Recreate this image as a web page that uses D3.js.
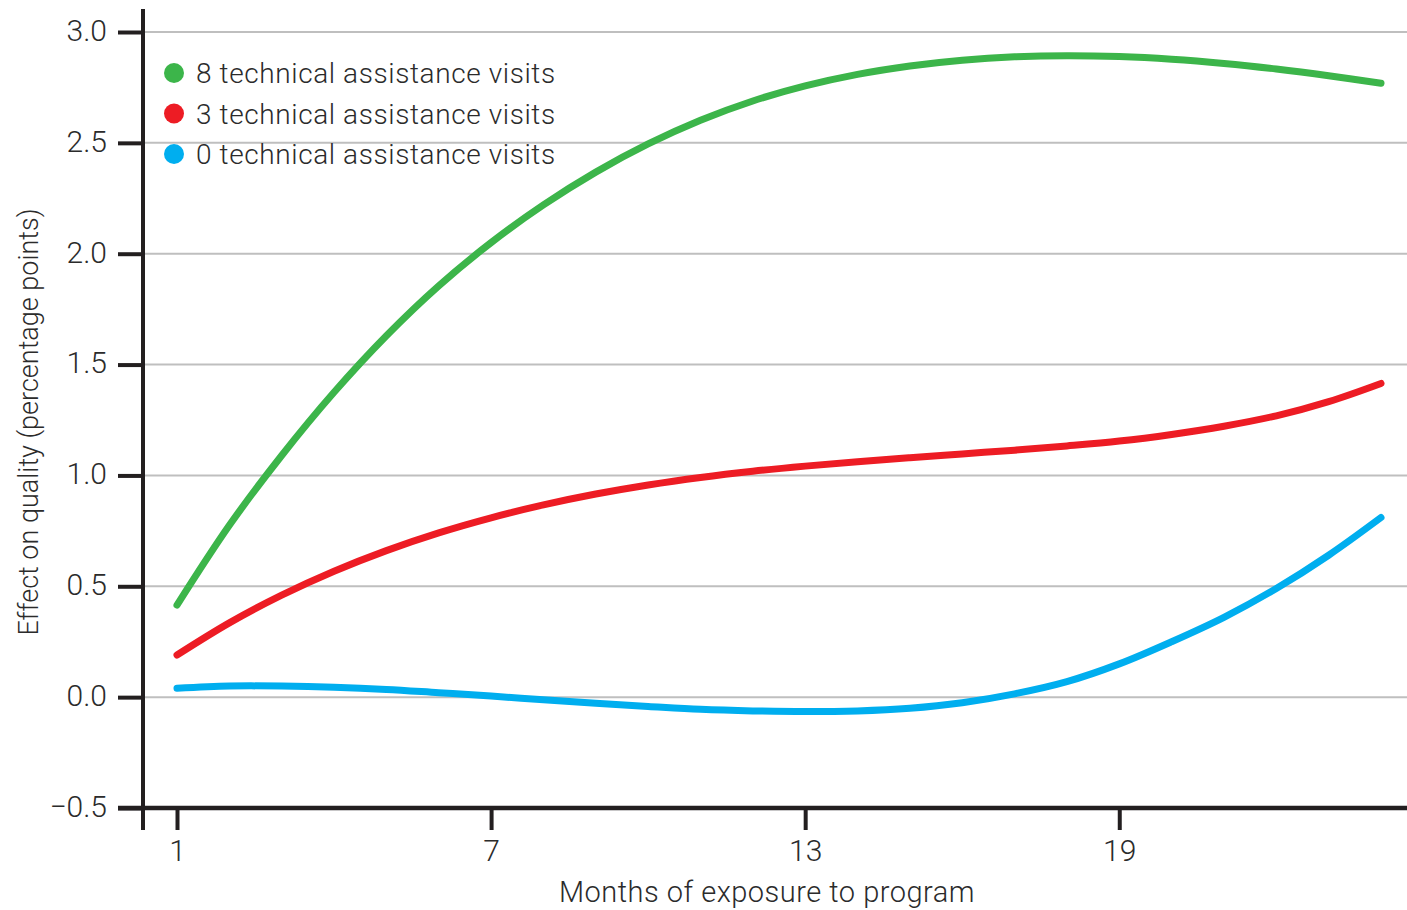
<!DOCTYPE html>
<html>
<head>
<meta charset="utf-8">
<script src="https://cdn.jsdelivr.net/npm/d3@7"></script>
<style>
  body { margin: 0; background: #fff; }
  text { font-family: Roboto, "Open Sans", sans-serif; font-weight: 300; fill: #2b2b2b; }
</style>
</head>
<body>
<div id="chart"></div>
<script>
// months on the x axis
var months = [1, 2, 3, 4, 5, 6, 7, 8, 9, 10, 11, 12, 13, 14, 15, 16, 17, 18, 19, 20, 21, 22, 23, 24];

// effect on quality, one value per month
var visits8 = [0.415, 0.775, 1.09, 1.375, 1.63, 1.855, 2.05, 2.22, 2.368, 2.495, 2.602, 2.689, 2.757, 2.809, 2.847, 2.873, 2.888, 2.893, 2.889, 2.877, 2.858, 2.833, 2.803, 2.769];
var visits3 = [0.19, 0.335, 0.46, 0.568, 0.661, 0.741, 0.809, 0.867, 0.916, 0.957, 0.991, 1.019, 1.042, 1.062, 1.08, 1.097, 1.114, 1.133, 1.155, 1.185, 1.222, 1.269, 1.333, 1.415];
var visits0 = [0.04, 0.05, 0.05, 0.045, 0.035, 0.02, 0.005, -0.012, -0.028, -0.042, -0.055, -0.062, -0.065, -0.062, -0.05, -0.025, 0.015, 0.07, 0.15, 0.25, 0.36, 0.49, 0.64, 0.81];

var seriesNames = ["8 technical assistance visits", "3 technical assistance visits", "0 technical assistance visits"];
var seriesColors = ["#3cb54a", "#ed1c24", "#00aeef"];

var yTicks = [-0.5, 0, 0.5, 1.0, 1.5, 2.0, 2.5, 3.0];
var xTicks = [1, 7, 13, 19];

var width = 1407,
  height = 910,
  axisColor = '#231f20',
  gridColor = '#bfbfbf';

var svg = d3.select('#chart').append('svg')
  .attr('width', width)
  .attr('height', height);

var x = d3.scaleLinear().domain([1, 24]).range([177, 1381]);
var y = d3.scaleLinear().domain([-0.5, 3]).range([808, 32]);

var axisX = 143;

// Grid lines
svg.append('g')
  .selectAll('line')
  .data(yTicks.filter(d => d > -0.5))
  .join('line')
  .attr('x1', axisX)
  .attr('x2', width)
  .attr('y1', d => y(d))
  .attr('y2', d => y(d))
  .attr('stroke', gridColor)
  .attr('stroke-width', 2);

// Y axis
var yAxis = d3.axisLeft(y)
  .tickValues(yTicks)
  .tickSize(25)
  .tickPadding(11)
  .tickFormat(d => d3.format('.1f')(d).replace('-', '\u2212'));

svg.append('g')
  .attr('transform', 'translate(' + axisX + ',0)')
  .call(yAxis)
  .call(g => g.select('.domain').remove())
  .call(g => g.selectAll('.tick line').attr('stroke', axisColor).attr('stroke-width', 4))
  .call(g => g.selectAll('.tick text')
    .attr('fill', null)
    .attr('dy', '0.28em')
    .style('font-size', '30px')
    .style('font-family', 'Roboto, sans-serif'));

svg.append('line')
  .attr('x1', axisX).attr('x2', axisX)
  .attr('y1', 9).attr('y2', 830)
  .attr('stroke', axisColor)
  .attr('stroke-width', 4);

// X axis
var xAxis = d3.axisBottom(x)
  .tickValues(xTicks)
  .tickSize(22)
  .tickPadding(10)
  .tickFormat(d3.format('d'));

svg.append('g')
  .attr('transform', 'translate(0,' + y(-0.5) + ')')
  .call(xAxis)
  .call(g => g.select('.domain').remove())
  .call(g => g.selectAll('.tick line').attr('stroke', axisColor).attr('stroke-width', 4))
  .call(g => g.selectAll('.tick text')
    .attr('fill', null)
    .style('font-size', '30px')
    .style('font-family', 'Roboto, sans-serif'));

svg.append('line')
  .attr('x1', 118).attr('x2', width)
  .attr('y1', y(-0.5)).attr('y2', y(-0.5))
  .attr('stroke', axisColor)
  .attr('stroke-width', 4.5);

// Lines
var line = d3.line()
  .x((d, i) => x(months[i]))
  .y(d => y(d))
  .curve(d3.curveCatmullRom.alpha(0.5));

svg.append('g')
  .selectAll('path')
  .data([visits8, visits3, visits0])
  .join('path')
  .attr('d', line)
  .attr('fill', 'none')
  .attr('stroke', (d, i) => seriesColors[i])
  .attr('stroke-width', 7)
  .attr('stroke-linecap', 'round')
  .attr('stroke-linejoin', 'round');

// Legend
var legend = svg.append('g')
  .selectAll('g')
  .data(seriesNames)
  .join('g')
  .attr('transform', (d, i) => 'translate(174,' + (73 + i * 40.5) + ')');

legend.append('circle')
  .attr('r', 10)
  .attr('fill', (d, i) => seriesColors[i]);

legend.append('text')
  .attr('x', 22)
  .attr('y', 10)
  .style('font-size', '28px')
  .style('letter-spacing', '0.6px')
  .text(d => d);

// Axis titles
svg.append('text')
  .attr('x', 767)
  .attr('y', 902)
  .attr('text-anchor', 'middle')
  .style('font-size', '29px')
  .style('letter-spacing', '0.5px')
  .text('Months of exposure to program');

svg.append('text')
  .attr('transform', 'translate(38,422) rotate(-90)')
  .attr('text-anchor', 'middle')
  .style('font-size', '27px')
  .text('Effect on quality (percentage points)');
</script>
</body>
</html>
